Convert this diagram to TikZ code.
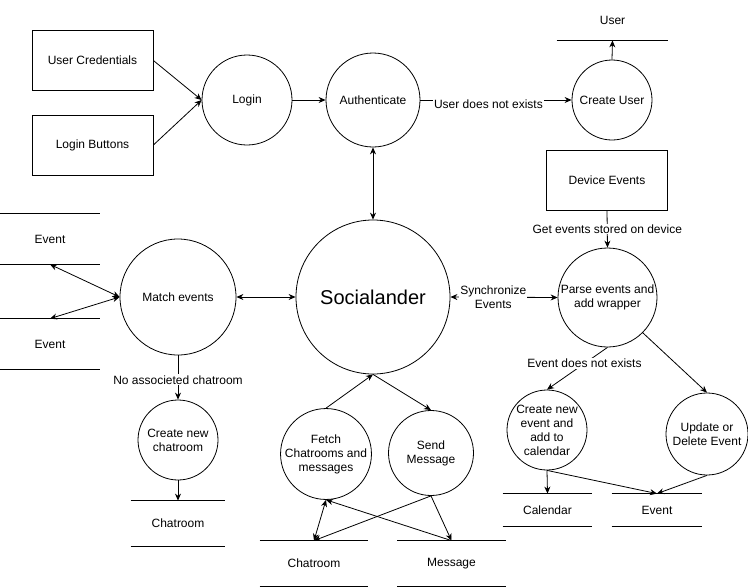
\documentclass[tikz,border=0pt]{standalone}
\usepackage{fontspec}
\setmainfont{Liberation Sans}
\usetikzlibrary{arrows.meta}

\tikzset{
  txt/.style={font=\fontsize{12}{14}\selectfont, align=center},
  process/.style={txt, circle, draw, inner sep=0pt},
  entity/.style={txt, rectangle, draw, minimum width=121, minimum height=60},
  datastore/.style={txt, rectangle, inner sep=0pt},
  flow/.style={-{Stealth[length=7pt,width=6pt]}},
  twoway/.style={{Stealth[length=7pt,width=6pt]}-{Stealth[length=7pt,width=6pt]}},
  lbl/.style={txt, fill=white, inner sep=1pt}
}

\begin{document}
\begin{tikzpicture}[x=1pt,y=1pt,yscale=-1,line width=0.8pt]
            \useasboundingbox (0,0) rectangle (748,587);
            %Shape: Entities
            \node [entity] (cred) at (92.5,60.5) {User Credentials};
            \node [entity] (buttons) at (92.5,145) {Login Buttons};
            \node [entity] (device) at (607,180) {Device Events};

            %Shape: Processes
            \node [process, minimum size=90] (login) at (247,100) {Login};
            \node [process, minimum size=94] (auth) at (373,100) {Authenticate};
            \node [process, minimum size=80] (createuser) at (612,100) {Create User};
            \node [process, minimum size=154, font=\fontsize{20}{24}\selectfont] (social) at (373,297) {Socialander};
            \node [process, minimum size=116] (match) at (178,297) {Match events};
            \node [process, minimum size=99] (parse) at (607.5,297.5) {Parse events and\\add wrapper};
            \node [process, minimum size=80] (newroom) at (178,440) {Create new\\chatroom};
            \node [process, minimum size=87] (fetch) at (326,454) {Fetch\\Chatrooms and\\messages};
            \node [process, minimum size=85] (send) at (431,453) {Send\\Message};
            \node [process, minimum size=80] (newevent) at (547,430) {Create new\\event and\\add to\\calendar};
            \node [process, minimum size=82] (update) at (707,434) {Update or\\Delete Event};

            %Shape: Data stores
            \node [datastore, minimum width=111, minimum height=40] (user) at (612.5,20) {User};
            \node [datastore, minimum width=100, minimum height=50] (eventa) at (50,239) {Event};
            \node [datastore, minimum width=100, minimum height=50] (eventb) at (50,344) {Event};
            \node [datastore, minimum width=94, minimum height=45] (rooma) at (178,523.5) {Chatroom};
            \node [datastore, minimum width=108, minimum height=45] (roomb) at (314,563.5) {Chatroom};
            \node [datastore, minimum width=108, minimum height=45] (message) at (451.5,563.5) {Message};
            \node [datastore, minimum width=89, minimum height=32] (calendar) at (547.5,510) {Calendar};
            \node [datastore, minimum width=90, minimum height=32] (eventc) at (657,510) {Event};
            \foreach \s in {user,eventa,eventb,rooma,roomb,message,calendar,eventc}
              \draw (\s.north west) -- (\s.north east) (\s.south west) -- (\s.south east);

            % Flows
            \draw [flow] (cred.east) -- (login.west);
            \draw [flow] (buttons.east) -- (login.west);
            \draw [flow] (login.east) -- (auth.west);
            \draw [flow] (auth.east) -- node [lbl, pos=0.45, yshift=-4] {User does not exists} (createuser.west);
            \draw [flow] (createuser.north) -- (user.south);
            \draw [twoway] (auth.south) -- (social.north);
            \draw [flow] (device.south) -- node [lbl] {Get events stored on device} (parse.north);
            \draw [twoway] (social.east) -- node [lbl, pos=0.4] {Synchronize\\Events} (parse.west);
            \draw [twoway] (match.east) -- (social.west);
            \draw [twoway] (match.west) -- (eventa.south);
            \draw [twoway] (match.west) -- (eventb.north);
            \draw [flow] (match.south) -- node [lbl, pos=0.55] {No associeted chatroom} (newroom.north);
            \draw [flow] (newroom.south) -- (rooma.north);
            \draw [flow] (fetch.north) -- (social.south);
            \draw [flow] (social.south) -- (send.north);
            \draw [twoway] (fetch.south) -- (roomb.north);
            \draw [flow] (send.south) -- (roomb.north);
            \draw [flow] (send.south) -- (message.north);
            \draw [flow] (message.north) -- (fetch.south);
            \draw [flow] (parse.south) -- node [lbl, pos=0.38] {Event does not exists} (newevent.north);
            \draw [flow] (parse.south east) -- (update.north);
            \draw [flow] (newevent.south) -- (calendar.north);
            \draw [flow] (newevent.south) -- (eventc.north);
            \draw [flow] (update.south) -- (eventc.north);
\end{tikzpicture}
\end{document}
